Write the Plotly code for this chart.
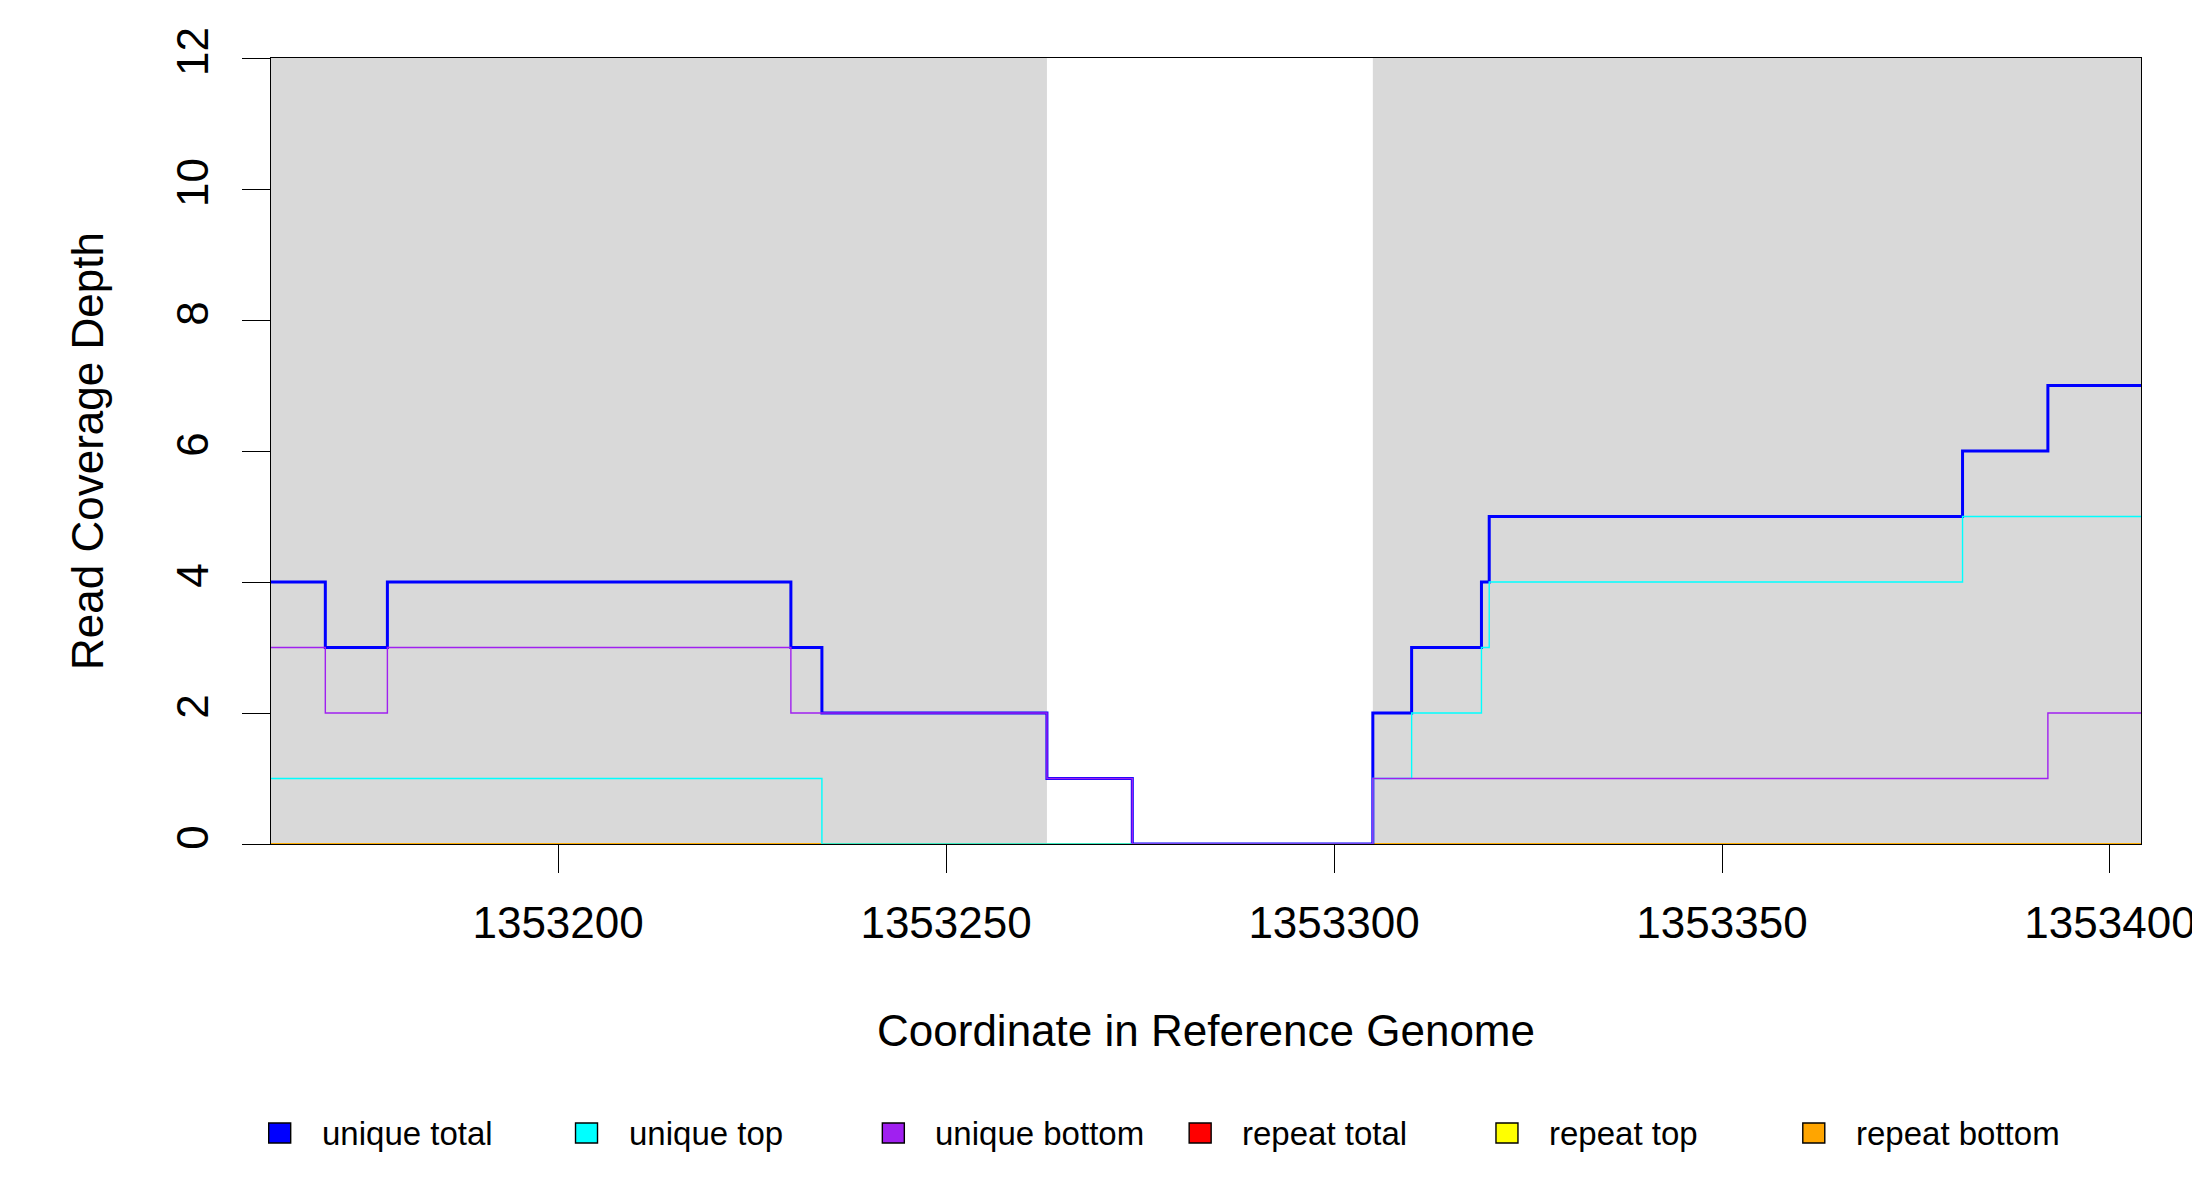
import plotly.graph_objects as go

# segment start positions (last entry = end of the window)
positions = [1353163, 1353170, 1353178, 1353230, 1353234, 1353263, 1353274,
             1353305, 1353310, 1353319, 1353320, 1353381, 1353392, 1353404]

unique_total = [4, 3, 4, 3, 2, 1, 0, 2, 3, 4, 5, 6, 7, 7]
unique_top = [1, 1, 1, 1, 0, 0, 0, 1, 2, 3, 4, 5, 5, 5]
unique_bottom = [3, 2, 3, 2, 2, 1, 0, 1, 1, 1, 1, 1, 2, 2]
repeat_total = [0] * 14
repeat_top = [0] * 14
repeat_bottom = [0] * 14

# shaded feature regions
region_start = [1353163, 1353305]
region_end = [1353263, 1353404]

x_ticks = [1353200, 1353250, 1353300, 1353350, 1353400]
y_ticks = [0, 2, 4, 6, 8, 10, 12]

series_names = ['unique total', 'unique top', 'unique bottom',
                'repeat total', 'repeat top', 'repeat bottom']
series_colors = ['#0000FF', '#00FFFF', '#A020F0', '#FF0000', '#FFFF00', '#FFA500']

FONT = 'Liberation Sans, Arial, sans-serif'
W, H = 2200, 1200
OFF = 8  # page body margin pushes the figure 8px right/down
L, R, T, B = 271 - OFF, 58.5 + OFF, 58 - OFF, 356 + OFF

fig = go.Figure()

# repeats drawn first, unique lines on top
draw = [
    (repeat_total, 3, 1.6), (repeat_top, 4, 1.6), (repeat_bottom, 5, 1.6),
    (unique_total, 0, 3), (unique_top, 1, 1.4), (unique_bottom, 2, 1.4),
]
for vals, ci, lw in draw:
    fig.add_trace(go.Scatter(
        x=positions, y=vals, mode='lines', line_shape='hv',
        line=dict(color=series_colors[ci], width=lw),
        name=series_names[ci], showlegend=False, hoverinfo='skip'))

shapes = []
for s, e in zip(region_start, region_end):
    shapes.append(dict(type='rect', xref='x', yref='paper', x0=s, x1=e, y0=0, y1=1,
                       fillcolor='#D9D9D9', line=dict(width=0), layer='below'))

# legend built by hand to follow the original row layout
pw = W - L - R
ph = H - T - B
annotations = []
for i, (nm, col) in enumerate(zip(series_names, series_colors)):
    cx = 279.7 + 306.9 * i - OFF
    cy = 1133 - OFF
    x0 = (cx - 11 - L) / pw
    x1 = (cx + 11 - L) / pw
    y0 = (H - B - (cy + 10)) / ph
    y1 = (H - B - (cy - 10)) / ph
    shapes.append(dict(type='rect', xref='paper', yref='paper', x0=x0, x1=x1, y0=y0, y1=y1,
                       fillcolor=col, line=dict(color='black', width=1.4)))
    annotations.append(dict(xref='paper', yref='paper', x=(cx + 40 - L) / pw,
                            y=(H - B - cy) / ph, text=nm, showarrow=False,
                            xanchor='left', yanchor='middle',
                            font=dict(family=FONT, size=33, color='black')))

fig.update_layout(
    width=W, height=H,
    margin=dict(l=L, r=R, t=T, b=B, autoexpand=False),
    paper_bgcolor='white', plot_bgcolor='white',
    font=dict(family=FONT, size=44, color='black'),
    shapes=shapes, annotations=annotations,
    showlegend=False,
)
fig.update_xaxes(
    range=[1353163, 1353404], tickvals=x_ticks, ticktext=[str(v) for v in x_ticks],
    ticks='outside', ticklen=28, tickwidth=1.4, tickcolor='black',
    showline=True, mirror=True, linecolor='black', linewidth=1.4,
    showgrid=False, zeroline=False, ticklabelstandoff=12, automargin=False,
    layer='below traces',
    title=dict(text='Coordinate in Reference Genome', standoff=69,
               font=dict(family=FONT, size=44)),
    tickfont=dict(family=FONT, size=44),
)
fig.update_yaxes(
    range=[0, 12], tickvals=y_ticks, tickangle=-90,
    ticks='outside', ticklen=28, tickwidth=1.4, tickcolor='black',
    showline=True, mirror=True, linecolor='black', linewidth=1.4,
    showgrid=False, zeroline=False, ticklabelstandoff=16, automargin=False,
    layer='below traces',
    title=dict(text='Read Coverage Depth', standoff=50,
               font=dict(family=FONT, size=44)),
    tickfont=dict(family=FONT, size=44),
)

fig.write_html('out.html')
